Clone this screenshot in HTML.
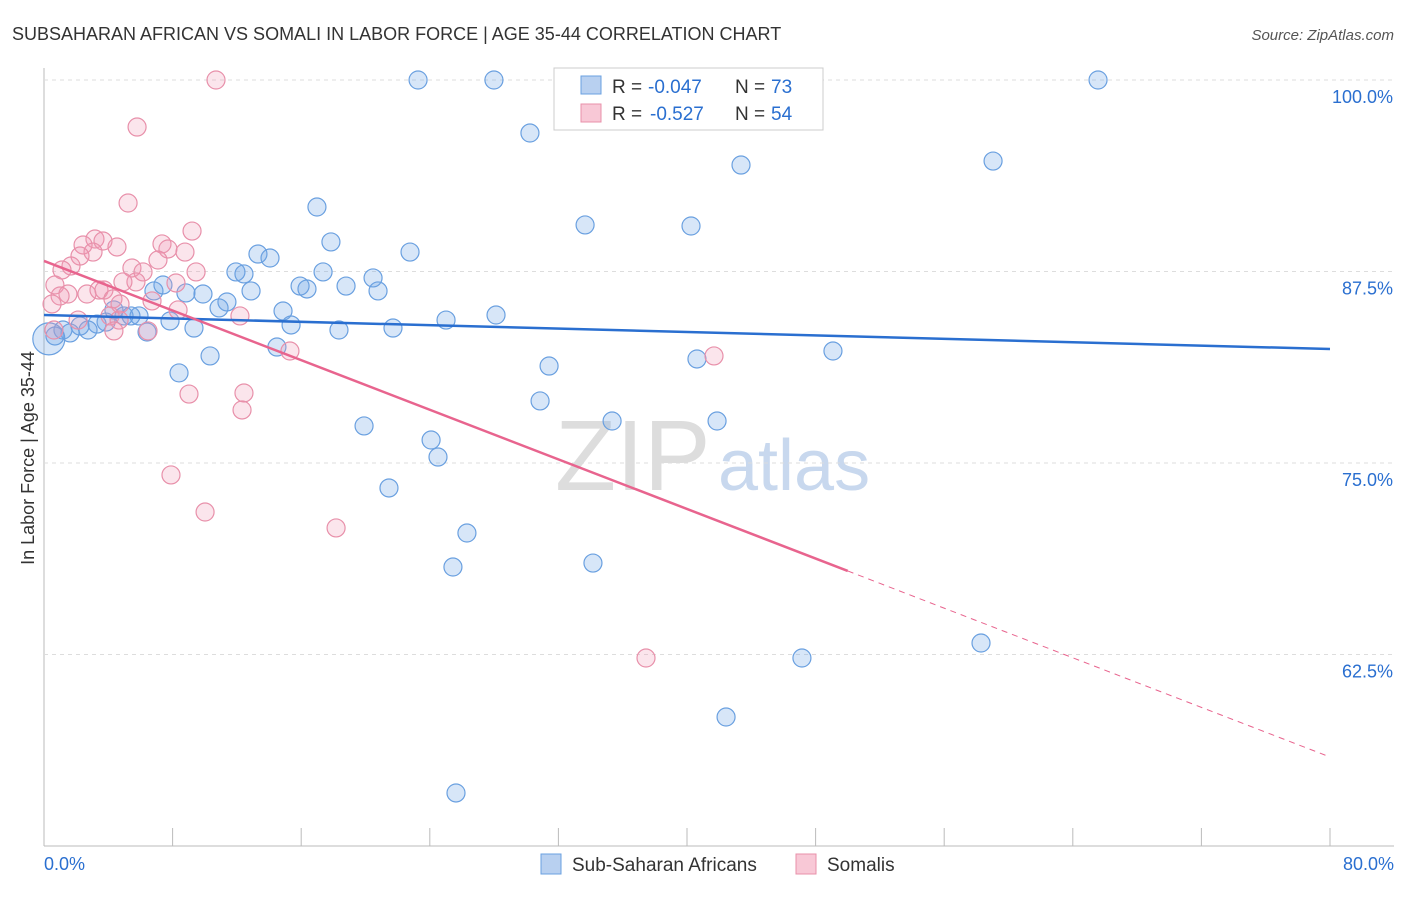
<!DOCTYPE html>
<html><head><meta charset="utf-8"><style>
body{margin:0;background:#fff;font-family:"Liberation Sans",sans-serif;}
svg text{font-family:"Liberation Sans",sans-serif;}
</style></head><body>
<svg id="chart" width="1406" height="892" xmlns="http://www.w3.org/2000/svg">
<text x="12" y="40" font-size="18" fill="#333">SUBSAHARAN AFRICAN VS SOMALI IN LABOR FORCE | AGE 35-44 CORRELATION CHART</text>
<text x="1394" y="40" font-size="15" fill="#555" text-anchor="end" font-style="italic">Source: ZipAtlas.com</text>
<text x="34" y="458" font-size="18" fill="#333" text-anchor="middle" transform="rotate(-90 34 458)">In Labor Force | Age 35-44</text>
<text x="555" y="490" font-size="100" fill="#ddd" font-family="Liberation Serif">ZIP</text>
<text x="718" y="490" font-size="72" fill="#c8d8ee">atlas</text>
<g id="grid"></g><g id="pts"></g><g id="lines"></g>
<g>
<rect x="554" y="68" width="269" height="62" fill="#fff" stroke="#ccc"/>
<rect x="581" y="76" width="20" height="18" fill="#b8d0f0" stroke="#6aa0e0"/>
<text y="93" font-size="19" fill="#333"><tspan x="612">R =</tspan><tspan x="648" fill="#2a6fd0">-0.047</tspan><tspan x="735">N =</tspan><tspan x="771" fill="#2a6fd0">73</tspan></text>
<rect x="581" y="104" width="20" height="18" fill="#f8c8d6" stroke="#e890aa"/>
<text y="120" font-size="19" fill="#333"><tspan x="612">R =</tspan><tspan x="650" fill="#2a6fd0">-0.527</tspan><tspan x="735">N =</tspan><tspan x="771" fill="#2a6fd0">54</tspan></text>
</g>
<g>
<rect x="541" y="854" width="20" height="20" fill="#b8d0f0" stroke="#6aa0e0"/>
<text x="572" y="871" font-size="19" fill="#333">Sub-Saharan Africans</text>
<rect x="796" y="854" width="20" height="20" fill="#f8c8d6" stroke="#e890aa"/>
<text x="827" y="871" font-size="19" fill="#333">Somalis</text>
</g>
<text x="44" y="870" font-size="18" fill="#2a6fd0">0.0%</text>
<text x="1394" y="870" font-size="18" fill="#2a6fd0" text-anchor="end">80.0%</text>
</svg>
<script>
const yTicks=[100,87.5,75,62.5];
const yTickLabels=["100.0%","87.5%","75.0%","62.5%"];
const xTicks=[0,8,16,24,32,40,48,56,64,72,80];
const blueX=[23.27,27.99,65.57,33.03,30.23,43.36,59.04,16.98,33.66,40.25,17.85,22.77,13.31,14.06,11.94,12.44,17.36,20.47,15.93,16.36,18.79,20.78,12.88,6.84,7.40,8.83,9.89,11.38,10.89,4.35,14.87,4.98,5.91,5.41,3.86,3.30,2.24,2.74,1.18,1.62,0.68,7.84,9.33,15.37,18.35,21.71,25.01,28.12,6.41,10.33,14.49,31.42,8.40,40.62,49.08,30.86,35.34,41.87,19.91,24.08,24.51,21.46,26.31,25.44,34.15,58.29,47.15,42.43,25.63];
const blueY=[100,100,100,100,96.54,94.45,94.71,91.71,90.54,90.47,89.43,88.77,88.64,88.38,87.47,87.34,87.47,87.08,86.55,86.36,86.55,86.23,86.23,86.23,86.62,86.10,86.03,85.51,85.12,84.99,84.92,84.60,84.60,84.60,84.20,84.07,83.94,83.68,83.68,83.49,83.29,84.27,83.81,84.01,83.68,83.81,84.33,84.66,83.55,81.99,82.57,81.33,80.88,81.79,82.31,79.05,77.74,77.74,77.42,76.50,75.39,73.37,70.43,68.21,68.47,63.25,62.27,58.42,53.46];
const pinkX=[10.70,5.79,5.23,9.21,3.17,3.67,2.43,4.54,7.34,7.71,8.77,3.05,2.24,1.68,1.12,5.47,7.09,6.16,5.72,4.91,9.46,8.21,0.68,1.49,2.67,1.00,3.42,3.73,4.29,4.73,0.50,4.11,8.34,6.72,2.12,4.67,12.19,6.47,4.35,0.62,15.30,41.68,9.02,12.44,12.32,7.90,10.02,18.17,37.45];
const pinkY=[100,96.93,91.97,90.14,89.62,89.49,89.23,89.10,89.30,88.97,88.77,88.77,88.51,87.86,87.60,87.73,88.25,87.47,86.82,86.82,87.47,86.75,86.62,86.03,86.03,85.90,86.29,86.29,85.71,85.38,85.38,84.60,84.99,85.58,84.33,84.33,84.60,83.62,83.62,83.68,82.31,81.99,79.50,79.57,78.46,74.22,71.80,70.76,62.27];
const blueTrend=[84.66,82.44];
const pinkTrend=[88.19,55.81];
const pinkSolidEnd=50;
const NS="http://www.w3.org/2000/svg";
const X=v=>44+v/80*1286, Y=v=>80+(100-v)/12.5*191.5;
function mk(t,a,p){const e=document.createElementNS(NS,t);for(const k in a)e.setAttribute(k,a[k]);p.appendChild(e);return e;}
const g=document.getElementById('grid');
mk('line',{x1:44,y1:68,x2:44,y2:846,stroke:'#bbb'},g);
mk('line',{x1:44,y1:846,x2:1394,y2:846,stroke:'#bbb'},g);
yTicks.forEach((t,i)=>{const l=mk('line',{x1:44,y1:Y(t),x2:1394,y2:Y(t),stroke:'#ddd','stroke-dasharray':'4,4'},g);


const tx=mk('text',{x:1393,y:Y(t)+23,'font-size':18,fill:'#2a6fd0','text-anchor':'end'},g);tx.textContent=yTickLabels[i];

});
xTicks.forEach(t=>{const l=mk('line',{x1:X(t),y1:828,x2:X(t),y2:846,stroke:'#bbb'},g);

});
const p=document.getElementById('pts');
blueX.forEach((x,i)=>{const c=mk('circle',{cx:X(x),cy:Y(blueY[i]),r:9,fill:'rgba(110,165,230,0.28)',stroke:'#6aa0e0','stroke-width':1.2},p);

});
const big=mk('circle',{cx:X(0.3),cy:Y(83.1),r:16,fill:'rgba(110,165,230,0.28)',stroke:'#6aa0e0','stroke-width':1.2},p);


pinkX.forEach((x,i)=>{const c=mk('circle',{cx:X(x),cy:Y(pinkY[i]),r:9,fill:'rgba(240,150,180,0.25)',stroke:'#e890aa','stroke-width':1.2},p);

});
const L=document.getElementById('lines');
const bl=mk('line',{x1:X(0),y1:Y(blueTrend[0]),x2:X(80),y2:Y(blueTrend[1]),stroke:'#2a6fd0','stroke-width':2.5},L);


const pv=x=>pinkTrend[0]+(pinkTrend[1]-pinkTrend[0])*x/80;
const pl=mk('line',{x1:X(0),y1:Y(pv(0)),x2:X(pinkSolidEnd),y2:Y(pv(pinkSolidEnd)),stroke:'#e8648e','stroke-width':2.5},L);


const pd=mk('line',{x1:X(pinkSolidEnd),y1:Y(pv(pinkSolidEnd)),x2:X(80),y2:Y(pv(80)),stroke:'#e8648e','stroke-width':1,'stroke-dasharray':'6,5'},L);


</script>
</body></html>
